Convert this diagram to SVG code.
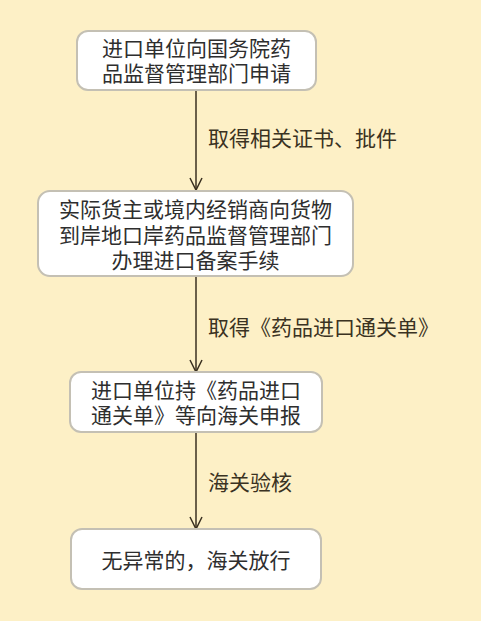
<svg xmlns="http://www.w3.org/2000/svg" width="481" height="621" viewBox="0 0 481 621">
<defs>
<style>
.box{fill:#ffffff;stroke:#c4c0b4;stroke-width:2}
.t{font-family:"Noto Sans CJK SC","Noto Sans",sans-serif;font-size:21px;fill:#2e2e2e;text-anchor:middle}
.lbl{font-family:"Noto Sans CJK SC","Noto Sans",sans-serif;font-size:21px;fill:#3a3222}
.ln{stroke:#3a3020;stroke-width:1.5;fill:none}
</style>
<marker id="ah" markerWidth="16" markerHeight="16" refX="13" refY="7" orient="auto" markerUnits="userSpaceOnUse">
<path d="M1,1 L13,7 L1,13" fill="none" stroke="#3a3020" stroke-width="1.5"/>
</marker>
</defs>
<rect width="481" height="621" fill="#fdf0c6"/>
<g id="connectors">
<line class="ln" x1="196" y1="90" x2="196" y2="190" marker-end="url(#ah)"/>
<line class="ln" x1="196" y1="276" x2="196" y2="372" marker-end="url(#ah)"/>
<line class="ln" x1="196" y1="432" x2="196" y2="529" marker-end="url(#ah)"/>
<text class="lbl" x="208" y="145.5">取得相关证书、批件</text>
<text class="lbl" x="208" y="334.5">取得《药品进口通关单》</text>
<text class="lbl" x="208" y="489.5">海关验核</text>
</g>
<g id="node1">
<rect class="box" x="77" y="31" width="239" height="59" rx="11"/>
<text class="t" x="196.5" y="55.5">进口单位向国务院药</text>
<text class="t" x="196.5" y="80.5">品监督管理部门申请</text>
</g>
<g id="node2">
<rect class="box" x="38" y="191" width="315" height="85" rx="12"/>
<text class="t" x="195.5" y="216.5">实际货主或境内经销商向货物</text>
<text class="t" x="195.5" y="242.5">到岸地口岸药品监督管理部门</text>
<text class="t" x="195.5" y="267.5">办理进口备案手续</text>
</g>
<g id="node3">
<rect class="box" x="70" y="372" width="252" height="60" rx="11"/>
<text class="t" x="196" y="397.5">进口单位持《药品进口</text>
<text class="t" x="196" y="422.5">通关单》等向海关申报</text>
</g>
<g id="node4">
<rect class="box" x="71" y="529" width="250" height="60" rx="11"/>
<text class="t" x="196" y="567.5">无异常的，海关放行</text>
</g>
</svg>
